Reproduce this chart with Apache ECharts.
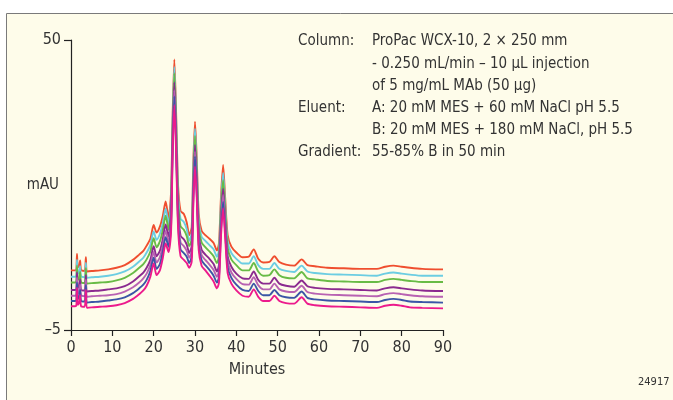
<!DOCTYPE html>
<html>
<head>
<meta charset="utf-8">
<script src="https://cdn.jsdelivr.net/npm/echarts@6/dist/echarts.min.js"></script>
<style>
  html, body { margin: 0; padding: 0; background: #fff; }
  #chart { width: 673px; height: 400px; }
</style>
</head>
<body>
<div id="chart"></div>
<script>
// retention time, minutes
var minutes = [0, 1.0, 1.3, 1.45, 1.65, 2.0, 2.2, 2.45, 3.3, 3.6, 3.85, 5, 7, 9, 11, 13, 15, 16.5, 17.5, 18.3,
  19.2, 20.0, 20.7, 21.5, 22.2, 22.9, 23.6, 24.2, 24.6, 25.0, 25.4, 25.9, 26.5, 27.3, 28.0, 28.6, 29.2, 29.6, 30.0, 30.4,
  30.9, 31.6, 32.5, 33.5, 34.5, 35.3, 35.8, 36.3, 36.8, 37.3, 37.9, 38.8, 40, 41.5, 43, 44.2, 45.3, 46.5, 48, 49.2,
  50.4, 52, 54, 55.8, 57.2, 59, 62, 66, 70, 74, 76, 78, 80, 82, 85, 90];

// mAU, one trace per injection (top to bottom)
var redTrace = [6.3, 6.3, 6.6, 9.4, 6.9, 7.2, 8.2, 6.4, 6.2, 8.8, 6.1, 6.2, 6.3, 6.5, 6.8, 7.3, 8.3, 9.3, 10.0, 11.0,
  12.3, 14.9, 13.5, 14.6, 16.6, 19.4, 16.2, 21.0, 36.0, 46.3, 37.0, 22.5, 17.6, 17.0, 15.4, 13.0, 14.5, 27.0, 34.5, 28.0,
  17.0, 13.8, 13.0, 12.3, 11.5, 10.1, 11.5, 20.5, 26.3, 20.0, 13.0, 10.8, 9.7, 8.8, 8.9, 10.3, 8.5, 7.8, 7.9, 9.0,
  7.9, 7.4, 7.2, 8.4, 7.3, 7.1, 6.8, 6.7, 6.6, 6.6, 7.0, 7.2, 7.0, 6.8, 6.6, 6.5];
var cyanTrace = [5.1, 5.1, 5.4, 8.3, 5.7, 6.0, 7.1, 5.2, 5.0, 7.7, 4.9, 5.0, 5.1, 5.3, 5.6, 6.1, 7.0, 8.0, 8.7, 9.7,
  11.1, 13.7, 12.1, 13.2, 15.2, 18.0, 15.1, 19.7, 34.8, 44.9, 35.7, 21.1, 16.1, 15.5, 14.1, 11.9, 13.4, 25.6, 33.2, 26.7,
  15.8, 12.7, 11.9, 11.1, 10.3, 8.9, 10.2, 19.2, 24.8, 18.7, 11.8, 9.6, 8.5, 7.6, 7.6, 9.0, 7.3, 6.6, 6.6, 7.7,
  6.6, 6.2, 6.0, 7.2, 6.1, 5.8, 5.6, 5.5, 5.4, 5.3, 5.7, 5.9, 5.7, 5.5, 5.3, 5.3];
var greenTrace = [4.0, 4.0, 4.3, 7.2, 4.5, 4.8, 6.0, 4.1, 3.9, 6.7, 3.8, 3.9, 4.0, 4.1, 4.4, 4.9, 5.8, 6.8, 7.5, 8.4,
  9.9, 12.4, 10.7, 11.8, 13.9, 16.7, 14.0, 18.5, 33.6, 43.7, 34.5, 19.8, 14.7, 14.0, 12.8, 10.9, 12.3, 24.3, 31.8, 25.5,
  14.7, 11.6, 10.7, 9.9, 9.0, 7.7, 9.0, 18.0, 23.4, 17.5, 10.6, 8.4, 7.3, 6.3, 6.3, 7.7, 6.1, 5.3, 5.4, 6.5,
  5.4, 4.9, 4.8, 6.0, 4.8, 4.6, 4.3, 4.2, 4.1, 4.1, 4.5, 4.7, 4.5, 4.3, 4.1, 4.1];
var purpleTrace = [2.6, 2.6, 2.8, 5.9, 3.0, 3.4, 4.6, 2.6, 2.5, 5.4, 2.3, 2.4, 2.5, 2.7, 2.9, 3.3, 4.2, 5.2, 5.9, 6.8,
  8.3, 10.9, 9.0, 10.0, 12.2, 15.0, 12.7, 16.9, 32.2, 42.0, 32.9, 18.1, 12.9, 12.2, 11.2, 9.6, 10.9, 22.6, 30.1, 23.9,
  13.3, 10.2, 9.3, 8.5, 7.5, 6.1, 7.4, 16.4, 21.8, 15.9, 9.0, 7.0, 5.7, 4.8, 4.7, 6.1, 4.5, 3.8, 3.8, 4.9,
  3.8, 3.4, 3.2, 4.4, 3.3, 3.0, 2.8, 2.7, 2.6, 2.5, 2.9, 3.1, 2.9, 2.7, 2.5, 2.4];
var orchidTrace = [1.5, 1.5, 1.8, 4.9, 1.9, 2.3, 3.6, 1.6, 1.4, 4.5, 1.3, 1.4, 1.5, 1.6, 1.8, 2.3, 3.1, 4.0, 4.8, 5.7,
  7.3, 9.8, 7.8, 8.8, 11.0, 13.8, 11.7, 15.8, 31.1, 40.5, 31.8, 16.9, 11.6, 10.9, 10.0, 8.7, 10.0, 21.4, 28.8, 22.8,
  12.2, 9.2, 8.3, 7.4, 6.4, 5.1, 6.3, 15.3, 20.6, 14.8, 8.0, 5.9, 4.7, 3.7, 3.6, 5.0, 3.5, 2.7, 2.7, 3.8,
  2.7, 2.3, 2.2, 3.4, 2.2, 1.9, 1.7, 1.6, 1.5, 1.4, 1.8, 2.0, 1.8, 1.6, 1.4, 1.3];
var blueTrace = [0.5, 0.5, 0.7, 4.0, 0.9, 1.3, 2.6, 0.5, 0.4, 3.5, 0.2, 0.3, 0.4, 0.6, 0.8, 1.2, 2.0, 2.9, 3.6, 4.5,
  6.2, 8.7, 6.6, 7.5, 9.8, 12.6, 10.8, 14.6, 30.0, 39.3, 30.6, 15.7, 10.3, 9.6, 8.9, 7.7, 9.0, 20.2, 27.9, 21.6,
  11.2, 8.2, 7.3, 6.4, 5.3, 4.0, 5.1, 14.1, 19.3, 13.6, 6.9, 4.9, 3.6, 2.6, 2.4, 3.8, 2.4, 1.6, 1.6, 2.6,
  1.6, 1.2, 1.1, 2.3, 1.1, 0.8, 0.6, 0.5, 0.4, 0.3, 0.7, 0.9, 0.7, 0.4, 0.3, 0.2];
var magentaTrace = [-0.5, -0.5, -0.3, 3.0, -0.2, 0.2, 1.6, -0.5, -0.6, 2.6, -0.8, -0.7, -0.6, -0.5, -0.3, 0.1, 0.9, 1.8, 2.5, 3.4,
  5.1, 7.6, 5.4, 6.3, 8.6, 11.4, 9.8, 13.5, 29.0, 37.7, 29.5, 14.5, 9.0, 8.3, 7.7, 6.8, 8.0, 19.0, 26.0, 20.5,
  10.2, 7.2, 6.3, 5.3, 4.2, 2.9, 4.0, 13.0, 18.1, 12.5, 5.8, 3.8, 2.5, 1.5, 1.3, 2.7, 1.3, 0.5, 0.5, 1.5,
  0.5, 0.1, 0.0, 1.2, 0.0, -0.3, -0.5, -0.6, -0.7, -0.8, -0.4, -0.2, -0.4, -0.7, -0.8, -0.9];

var traces = [redTrace, cyanTrace, greenTrace, purpleTrace, orchidTrace, blueTrace, magentaTrace];
var traceColors = ['#ef4e2f', '#6ccde2', '#68bb46', '#8b2a8f', '#b862b2', '#3b56a6', '#ec1a8c'];

var xTicks = [0, 90];     // minutes range
var yTicks = [-5, 50];    // only two labels on the mAU axis

var infoLabels = ['Column:', '', '', 'Eluent:', '', 'Gradient:'];
var infoValues = ['ProPac WCX-10, 2 × 250 mm', '- 0.250 mL/min – 10 µL injection', 'of 5 mg/mL MAb (50 µg)',
  'A: 20 mM MES + 60 mM NaCl pH 5.5', 'B: 20 mM MES + 180 mM NaCl, pH 5.5', '55-85% B in 50 min'];

var font = '"DejaVu Sans Condensed", "Liberation Sans Narrow", sans-serif';
var textColor = '#333';

var chart = echarts.init(document.getElementById('chart'));

function zip(xs, ys) {
  var out = [];
  for (var i = 0; i < xs.length; i++) out.push([xs[i], ys[i]]);
  return out;
}

var series = traces.map(function (vals, i) {
  return {
    type: 'line',
    data: zip(minutes, vals),
    symbol: 'none',
    smooth: 0.25,
    lineStyle: { color: traceColors[i], width: 1.9 },
    z: 2 + i,
    silent: true
  };
});

// info text block in the upper right
var info = [];
infoValues.forEach(function (v, i) {
  var y = 34 + i * 22.2;
  if (infoLabels[i]) {
    info.push({ type: 'text', left: 298, top: y, style: { text: infoLabels[i], font: '15px ' + font, fill: textColor } });
  }
  info.push({ type: 'text', left: 372, top: y, style: { text: v, font: '15px ' + font, fill: textColor } });
});

var option = {
  animation: false,
  backgroundColor: '#fff',
  graphic: [
    {
      type: 'rect', left: 6, top: 13, z: -10,
      shape: { width: 680, height: 400 },
      style: { fill: '#fefcea', stroke: '#7a7a7a', lineWidth: 1 }
    },
    { type: 'text', left: 638, top: 377, style: { text: '24917', font: '11px ' + font, fill: textColor } }
  ].concat(info),
  grid: { left: 71, right: 230, top: 40, bottom: 70 },
  xAxis: {
    type: 'value',
    min: xTicks[0],
    max: xTicks[1],
    interval: 10,
    name: 'Minutes',
    nameLocation: 'middle',
    nameGap: 32,
    nameTextStyle: { fontFamily: font, fontSize: 16, color: textColor },
    axisLine: { onZero: false, lineStyle: { color: '#222', width: 1.2 } },
    axisTick: { length: 6, lineStyle: { color: '#222', width: 1.2 } },
    axisLabel: { fontFamily: font, fontSize: 16, color: textColor, margin: 10 },
    splitLine: { show: false }
  },
  yAxis: {
    type: 'value',
    min: yTicks[0],
    max: yTicks[1],
    interval: yTicks[1] - yTicks[0],
    name: 'mAU',
    nameLocation: 'middle',
    nameRotate: 0,
    nameGap: 12,
    nameMoveOverlap: false,
    nameTextStyle: { fontFamily: font, fontSize: 15, color: textColor },
    axisLine: { show: true, lineStyle: { color: '#222', width: 1.2 } },
    axisTick: { show: true, length: 7, lineStyle: { color: '#222', width: 1.2 } },
    axisLabel: {
      fontFamily: font, fontSize: 16, color: textColor, margin: 10,
      formatter: function (v) { return v < 0 ? '\u2013' + Math.abs(v) : String(v); }
    },
    splitLine: { show: false }
  },
  series: series
};

chart.setOption(option);
</script>
</body>
</html>
